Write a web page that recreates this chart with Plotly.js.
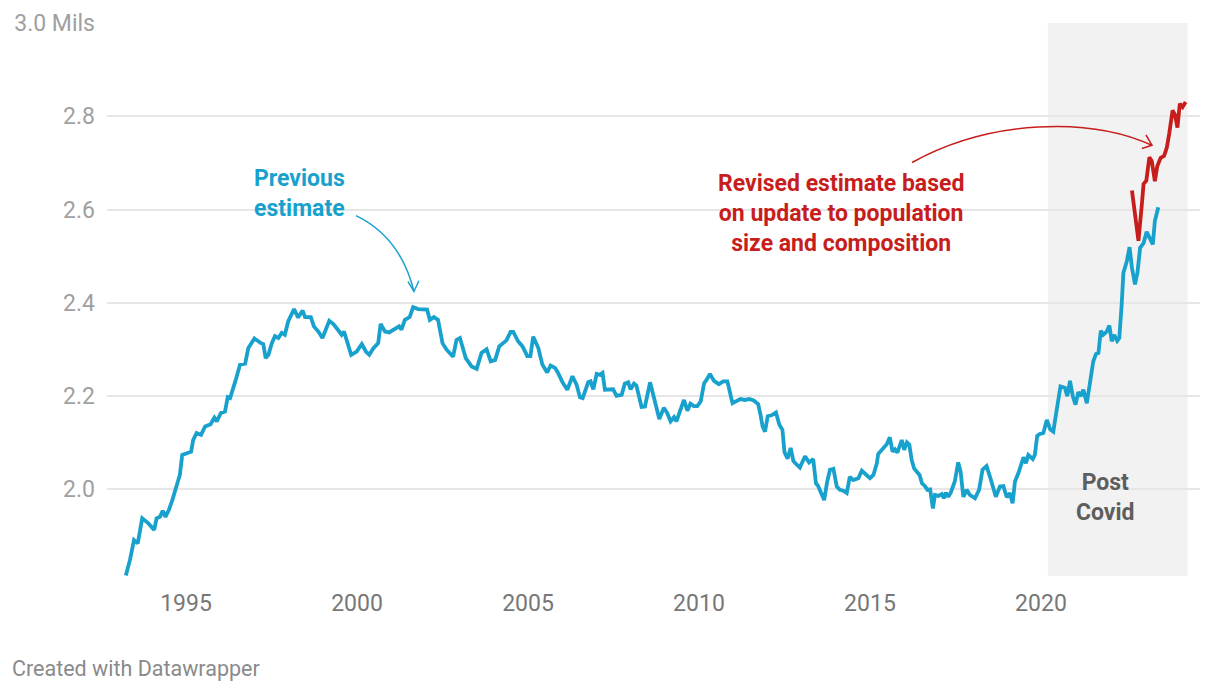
<!DOCTYPE html>
<html>
<head>
<meta charset="utf-8">
<script src="https://cdn.plot.ly/plotly-3.0.1.min.js"></script>
<style>
  html, body { margin: 0; padding: 0; background: #ffffff; }
  #chart { width: 1220px; height: 692px; }
</style>
</head>
<body>
<div id="chart"></div>
<script>
// ---- Data (decimal year, millions) ----
const prevYears = [
  1993.24,1993.36,1993.48,1993.59,1993.72,1993.90,1994.07,1994.14,1994.24,1994.32,1994.40,1994.50,1994.60,1994.73,1994.82,1994.89,
  1995.02,1995.15,1995.21,1995.31,1995.44,1995.56,1995.72,1995.83,1995.90,1996.02,1996.14,1996.22,1996.29,1996.38,1996.45,1996.58,
  1996.73,1996.82,1997.00,1997.19,1997.26,1997.33,1997.41,1997.51,1997.60,1997.70,1997.80,1997.89,1997.99,1998.16,1998.28,1998.41,
  1998.48,1998.65,1998.74,1998.87,1998.99,1999.19,1999.31,1999.48,1999.55,1999.62,1999.72,1999.83,1999.99,2000.14,2000.26,2000.36,
  2000.48,2000.62,2000.69,2000.82,2000.94,2001.06,2001.18,2001.23,2001.30,2001.40,2001.54,2001.64,2001.79,2001.94,2002.05,2002.13,
  2002.25,2002.37,2002.50,2002.62,2002.70,2002.81,2002.91,2003.01,2003.18,2003.35,2003.50,2003.64,2003.79,2003.91,2004.04,2004.16,
  2004.37,2004.49,2004.57,2004.71,2004.84,2004.98,2005.07,2005.15,2005.30,2005.42,2005.56,2005.66,2005.79,2005.88,2006.01,2006.15,
  2006.30,2006.42,2006.52,2006.60,2006.76,2006.83,2006.91,2007.01,2007.11,2007.18,2007.25,2007.40,2007.49,2007.59,2007.74,2007.83,
  2007.93,2008.00,2008.10,2008.17,2008.32,2008.42,2008.57,2008.68,2008.84,2008.97,2009.07,2009.17,2009.27,2009.34,2009.44,2009.56,
  2009.66,2009.75,2009.85,2009.95,2010.05,2010.15,2010.22,2010.32,2010.44,2010.58,2010.71,2010.83,2010.98,2011.10,2011.21,2011.34,
  2011.47,2011.60,2011.73,2011.80,2011.86,2011.93,2012.01,2012.12,2012.25,2012.35,2012.44,2012.50,2012.59,2012.68,2012.76,2012.86,
  2012.95,2013.10,2013.22,2013.34,2013.42,2013.48,2013.56,2013.66,2013.75,2013.83,2013.93,2014.03,2014.12,2014.22,2014.32,2014.41,
  2014.51,2014.66,2014.76,2014.88,2015.00,2015.10,2015.20,2015.24,2015.39,2015.49,2015.58,2015.66,2015.73,2015.80,2015.93,2016.00,
  2016.08,2016.15,2016.22,2016.29,2016.37,2016.45,2016.52,2016.61,2016.68,2016.76,2016.84,2016.90,2017.00,2017.10,2017.16,2017.22,
  2017.29,2017.36,2017.48,2017.58,2017.65,2017.73,2017.83,2017.92,2018.07,2018.19,2018.29,2018.41,2018.51,2018.61,2018.68,2018.80,
  2018.90,2019.00,2019.09,2019.17,2019.24,2019.34,2019.42,2019.49,2019.56,2019.63,2019.76,2019.82,2019.89,2019.97,2020.07,2020.17,
  2020.27,2020.36,2020.45,2020.57,2020.70,2020.77,2020.85,2020.93,2021.01,2021.09,2021.16,2021.24,2021.34,2021.43,2021.53,2021.61,
  2021.68,2021.75,2021.82,2021.92,2022.00,2022.07,2022.14,2022.23,2022.29,2022.36,2022.41,2022.51,2022.59,2022.66,2022.75,2022.82,
  2022.90,2023.00,2023.09,2023.17,2023.27,2023.33,2023.43
];
const prevValues = [
  1.814,1.847,1.890,1.883,1.937,1.926,1.912,1.937,1.940,1.953,1.940,1.955,1.976,2.012,2.030,2.073,
  2.077,2.080,2.105,2.120,2.116,2.134,2.139,2.153,2.145,2.163,2.166,2.197,2.195,2.220,2.233,2.267,
  2.269,2.302,2.323,2.313,2.311,2.281,2.288,2.313,2.328,2.324,2.335,2.331,2.360,2.386,2.368,2.383,
  2.369,2.369,2.349,2.338,2.324,2.361,2.354,2.338,2.331,2.338,2.313,2.288,2.295,2.311,2.295,2.288,
  2.302,2.313,2.354,2.338,2.336,2.342,2.346,2.349,2.342,2.363,2.369,2.390,2.386,2.385,2.385,2.363,
  2.369,2.363,2.313,2.299,2.292,2.284,2.320,2.324,2.281,2.263,2.258,2.292,2.300,2.274,2.277,2.306,
  2.319,2.337,2.337,2.317,2.306,2.285,2.285,2.327,2.303,2.267,2.250,2.265,2.260,2.249,2.229,2.213,
  2.242,2.224,2.197,2.195,2.229,2.231,2.214,2.247,2.245,2.249,2.213,2.214,2.214,2.200,2.202,2.226,
  2.229,2.214,2.226,2.222,2.176,2.177,2.229,2.197,2.150,2.174,2.163,2.145,2.154,2.145,2.168,2.191,
  2.168,2.183,2.178,2.178,2.188,2.227,2.234,2.247,2.232,2.225,2.231,2.231,2.184,2.189,2.193,2.191,
  2.193,2.190,2.182,2.159,2.134,2.123,2.156,2.158,2.164,2.138,2.127,2.079,2.065,2.088,2.060,2.052,
  2.046,2.070,2.057,2.064,2.012,2.007,1.991,1.976,2.016,2.041,2.043,2.005,1.998,1.996,1.991,2.026,
  2.019,2.023,2.039,2.032,2.023,2.030,2.055,2.075,2.088,2.096,2.111,2.080,2.085,2.078,2.105,2.084,
  2.100,2.095,2.062,2.044,2.037,2.030,2.012,2.006,1.998,1.999,1.958,1.987,1.985,1.989,1.980,1.992,
  1.983,1.992,2.016,2.057,2.037,1.983,1.998,1.987,1.980,1.998,2.041,2.049,2.026,1.998,1.983,2.005,
  2.006,1.982,1.991,1.969,2.016,2.034,2.052,2.068,2.055,2.073,2.064,2.073,2.114,2.118,2.120,2.148,
  2.128,2.123,2.165,2.220,2.217,2.199,2.232,2.199,2.181,2.208,2.199,2.213,2.184,2.234,2.274,2.290,
  2.292,2.340,2.331,2.338,2.351,2.317,2.331,2.318,2.324,2.396,2.464,2.489,2.519,2.475,2.439,2.464,
  2.518,2.528,2.552,2.540,2.525,2.575,2.605
];
const revYears = [
  2022.66,2022.75,2022.85,2022.95,2023.00,2023.08,2023.17,2023.24,2023.33,2023.40,2023.50,2023.60,2023.68,2023.75,2023.85,2023.92,
  2023.99,2024.06,2024.14,2024.23
];
const revValues = [
  2.641,2.589,2.533,2.611,2.655,2.662,2.712,2.704,2.661,2.693,2.711,2.715,2.733,2.763,2.813,2.803,
  2.776,2.827,2.820,2.831
];
const xTickYears = [1995, 2000, 2005, 2010, 2015, 2020];
const xTickLabels = ["1995", "2000", "2005", "2010", "2015", "2020"];
const yTickVals = [2.0, 2.2, 2.4, 2.6, 2.8, 3.0];
const yTickLabels = ["2.0", "2.2", "2.4", "2.6", "2.8", "3.0 Mils"];
const covidPeriod = [2020.2, 2024.29];

// ---- Styles ----
const BLUE = "#18a1cd";
const RED = "#c71e1d";
const FONT = "Roboto, 'Noto Sans', sans-serif";

const traces = [
  {
    x: prevYears, y: prevValues, type: "scatter", mode: "lines",
    line: { color: BLUE, width: 3.8, shape: "linear" },
    hoverinfo: "skip", showlegend: false
  },
  {
    x: revYears, y: revValues, type: "scatter", mode: "lines",
    line: { color: RED, width: 3.8, shape: "linear" },
    hoverinfo: "skip", showlegend: false
  }
];

const layout = {
  width: 1220, height: 692,
  margin: { l: 107, r: 20, t: 23, b: 116, pad: 0 },
  paper_bgcolor: "#ffffff", plot_bgcolor: "#ffffff",
  font: { family: FONT },
  showlegend: false,
  xaxis: {
    type: "linear",
    range: [1992.69, 2024.65],
    tickvals: xTickYears, ticktext: xTickLabels,
    showgrid: false, zeroline: false, showline: false, ticks: "",
    tickfont: { size: 23, color: "#777777", family: FONT },
    ticklabelstandoff: 11,
    fixedrange: true
  },
  yaxis: {
    range: [1.813, 3.0005],
    tickvals: yTickVals, ticktext: yTickLabels,
    showgrid: true, gridcolor: "#e6e6e6", gridwidth: 2,
    zeroline: false, showline: false, ticks: "",
    tickfont: { size: 23, color: "#a0a0a0", family: FONT },
    ticklabelstandoff: 11,
    fixedrange: true
  },
  shapes: [
    {
      type: "rect", xref: "x", yref: "paper",
      x0: covidPeriod[0], x1: covidPeriod[1], y0: 0, y1: 1,
      fillcolor: "#f2f2f2", line: { width: 0 }, layer: "below"
    },
    {
      type: "path", xref: "x", yref: "y",
      path: "M 1999.97,2.587 C 2000.82,2.557 2001.40,2.503 2001.667,2.424",
      line: { color: BLUE, width: 1.5 }, layer: "above"
    },
    {
      type: "path", xref: "x", yref: "y",
      path: "M 2001.49,2.445 L 2001.667,2.424 L 2001.81,2.447",
      line: { color: BLUE, width: 1.5 }, layer: "above"
    },
    {
      type: "path", xref: "x", yref: "y",
      path: "M 2016.23,2.701 C 2018.51,2.794 2021.43,2.799 2023.246,2.738",
      line: { color: RED, width: 1.5 }, layer: "above"
    },
    {
      type: "path", xref: "x", yref: "y",
      path: "M 2023.07,2.760 L 2023.246,2.738 L 2022.95,2.731",
      line: { color: RED, width: 1.5 }, layer: "above"
    }
  ],
  annotations: [
    {
      xref: "x", yref: "y", x: 1998.33, y: 2.634,
      text: "<b>Previous<br>estimate</b>", showarrow: false,
      xanchor: "center", yanchor: "middle", align: "center",
      font: { size: 23, color: BLUE, family: FONT }
    },
    {
      xref: "x", yref: "y", x: 2014.15, y: 2.591,
      text: "<b>Revised estimate based<br>on update to population<br>size and composition</b>", showarrow: false,
      xanchor: "center", yanchor: "middle", align: "center",
      font: { size: 23, color: RED, family: FONT }
    },
    {
      xref: "x", yref: "y", x: 2021.90, y: 1.982,
      text: "<b>Post<br>Covid</b>", showarrow: false,
      xanchor: "center", yanchor: "middle", align: "center",
      font: { size: 23, color: "#5e5e5e", family: FONT }
    },
    {
      xref: "paper", yref: "paper", x: -0.0887, y: -0.1664,
      text: "Created with Datawrapper", showarrow: false,
      xanchor: "left", yanchor: "middle", align: "left",
      font: { size: 21.5, color: "#8a8a8a", family: FONT }
    }
  ]
};

Plotly.newPlot("chart", traces, layout, { staticPlot: true, displayModeBar: false });
</script>
</body>
</html>
